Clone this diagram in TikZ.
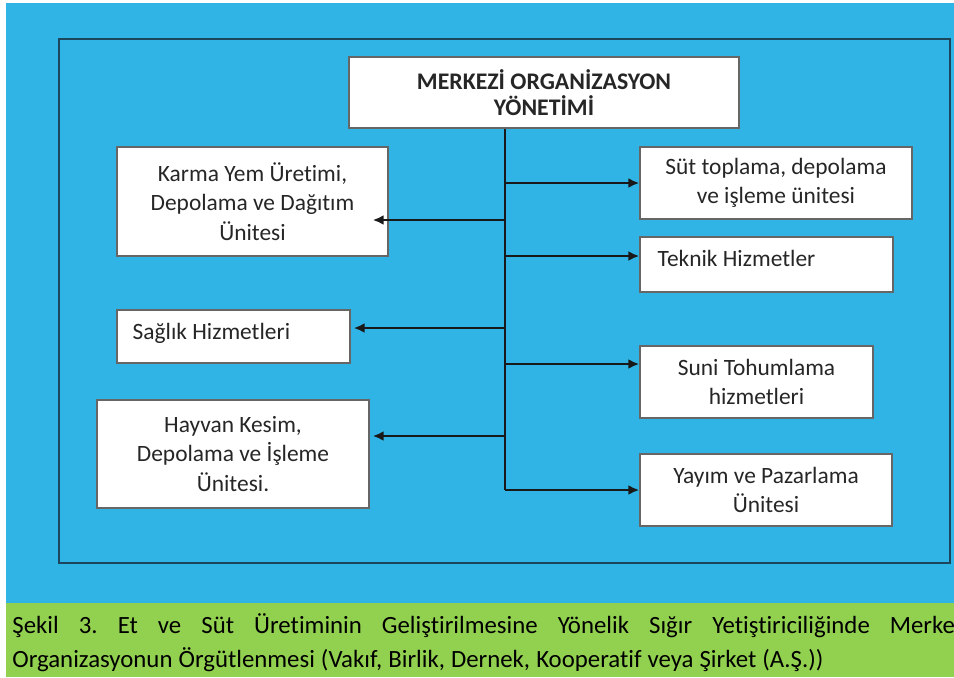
\documentclass[tikz,border=0pt]{standalone}
\usepackage{fontspec}
\setmainfont{Carlito}[Ligatures=NoCommon]
\usetikzlibrary{calc,arrows.meta}
\definecolor{SkyFill}{RGB}{48,180,230}
\definecolor{LeafFill}{RGB}{146,208,80}
\definecolor{FrameLine}{RGB}{28,70,92}
\frenchspacing

\begin{document}
\begin{tikzpicture}[x=0.5pt, y=-0.5pt, >={Latex[length=5.5pt,width=5pt]},
    unitbox/.style={draw=black!60, line width=0.7pt, fill=white, inner sep=0pt,
        align=center, text=black!85, font=\fontsize{11.7}{14.8}\selectfont},
    unittext/.style={anchor=west, inner sep=0pt, text=black!85,
        font=\fontsize{11.7}{14.8}\selectfont},
    feed/.style={->, line width=1.3pt, black!90}]

    \useasboundingbox (0,0) rectangle (954,677);
    \clip (0,0) rectangle (954,677);

    % background and frame
    \fill[SkyFill] (6,3) rectangle (954,603);
    \fill[LeafFill] (6,603) rectangle (954,677);
    \draw[FrameLine, line width=1pt] (59,39) rectangle (950,563);

    % head office
    \node[unitbox, minimum width=195pt, minimum height=35.5pt,
        font=\fontsize{11.9}{13}\selectfont\bfseries]
        (Title) at (544,92.5) {MERKEZİ ORGANİZASYON\\YÖNETİMİ};

    % left side units
    \node[unitbox, minimum width=135.5pt, minimum height=54.5pt]
        (Karma) at (252.5,201.5) {Karma Yem Üretimi,\\Depolama ve Dağıtım\\Ünitesi};
    \node[unitbox, minimum width=116.5pt, minimum height=26.5pt]
        (Saglik) at (233.5,336.5) {};
    \node[unittext] at ($(Saglik.west)+(16,-3)$) {Sağlık Hizmetleri};
    \node[unitbox, minimum width=136pt, minimum height=54pt]
        (Hayvan) at (233,454) {Hayvan Kesim,\\Depolama ve İşleme\\Ünitesi.};

    % right side units
    \node[unitbox, minimum width=136pt, minimum height=36pt]
        (Sut) at (776,183) {Süt toplama, depolama\\ve işleme ünitesi};
    \node[unitbox, minimum width=126.5pt, minimum height=27.5pt]
        (Teknik) at (766.5,264.5) {};
    \node[unittext] at ($(Teknik.west)+(18,-6)$) {Teknik Hizmetler};
    \node[unitbox, minimum width=116.5pt, minimum height=36pt]
        (Suni) at (756.5,382) {Suni Tohumlama\\hizmetleri};
    \node[unitbox, minimum width=126pt, minimum height=36pt]
        (Yayim) at (766,490) {Yayım ve Pazarlama\\Ünitesi};

    % spine and branches
    \coordinate (Spine) at (505,490);
    \draw[line width=1.3pt, black!90] (Spine |- Title.south) -- (Spine);
    \foreach \target/\dx/\dy in {Karma.east/-16/18.5, Saglik.east/3/-8.5,
        Hayvan.east/3/-18, Sut.west/0/0, Teknik.west/0/-8.5,
        Suni.west/0/-18, Yayim.west/0/0}
    {
        \coordinate (Tip) at ($(\target)+(\dx,\dy)$);
        \draw[feed] (Spine |- Tip) -- (Tip);
    }

    % caption
    \node[anchor=north west, inner sep=0pt, align=left,
        font=\fontsize{12.4}{17}\selectfont]
        (Caption) at (12,613)
        {\makebox[479pt][s]{Şekil 3. Et ve Süt Üretiminin Geliştirilmesine Yönelik Sığır Yetiştiriciliğinde Merkezi}\\
         \makebox[405.5pt][s]{Organizasyonun Örgütlenmesi (Vakıf, Birlik, Dernek, Kooperatif veya Şirket (A.Ş.))}};
\end{tikzpicture}
\end{document}
